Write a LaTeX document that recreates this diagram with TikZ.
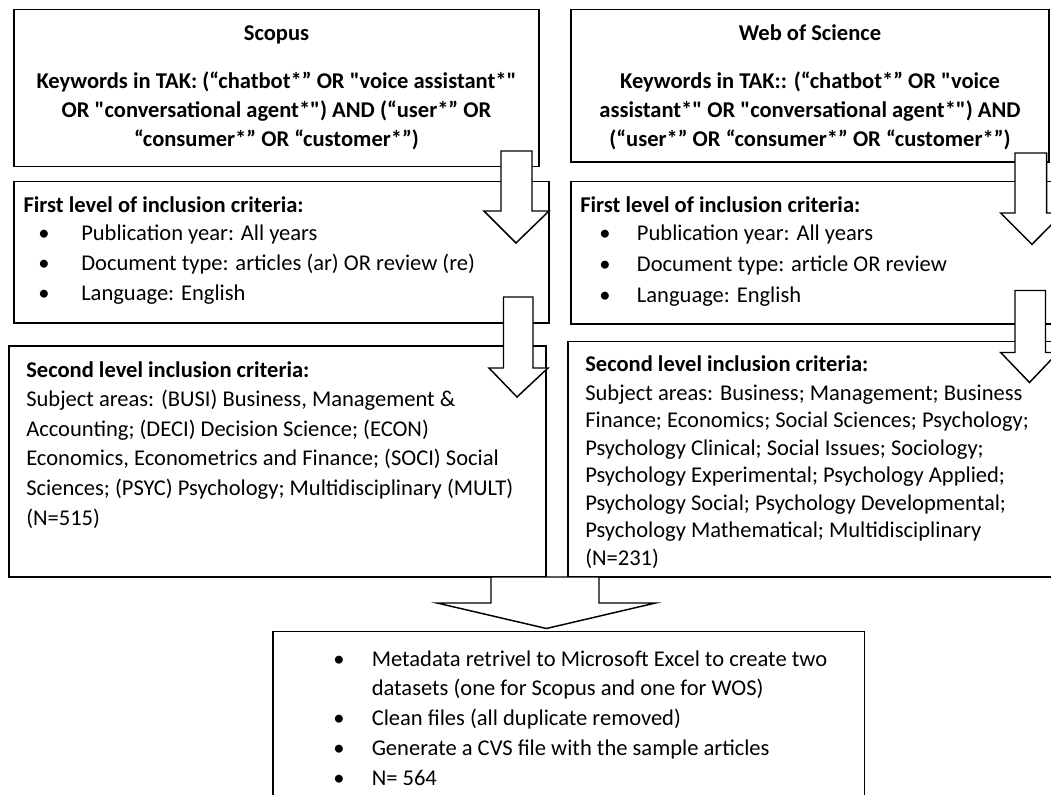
\documentclass[tikz,border=0pt]{standalone}
\usepackage{fontspec}
\setmainfont{Carlito}[Ligatures=TeXOff]
\usetikzlibrary{fit}
\newcommand\diagfont{\fontsize{16.9}{20}\selectfont}
\begin{document}
\begin{tikzpicture}[x=0.75pt,y=-0.75pt,
  box/.style={draw=black, fill=white, line width=1.1pt, inner sep=0pt},
  barrow/.style={draw=black, fill=white, line width=1.1pt, line join=miter},
  txt/.style={anchor=base west, inner sep=0pt, font=\diagfont},
  btxt/.style={anchor=base west, inner sep=0pt, font=\diagfont\bfseries},
  ctxt/.style={anchor=base, inner sep=0pt, font=\diagfont\bfseries}]
\clip (0,0) rectangle (1051,795);
\fill[white] (0,0) rectangle (1051,795);
% boxes
\node[box, fit={(14,9.5) (539,166.5)}] (s1) {};
\node[box, fit={(14,181.7) (549,323)}] (s2) {};
\node[box, fit={(9,346) (546,577)}] (s3) {};
\node[box, fit={(571,9.5) (1049,162)}] (w1) {};
\node[box, fit={(571,181.7) (1062,324)}] (w2) {};
\node[box, fit={(568,341.7) (1062,577)}] (w3) {};
\node[box, fit={(273,631.5) (864.7,802)}] (out) {};
% block arrows
\draw[barrow] (491,577) -- (491,603) -- (437,603) -- (546.4,628.5) -- (655.5,603) -- (599,603) -- (599,577) -- cycle;
\draw[barrow] (501,151) -- (501,211) -- (484,211) -- (516,243) -- (549,211) -- (532,211) -- (532,151) -- cycle;
\draw[barrow] (503.5,297) -- (503.5,368) -- (489,368) -- (517,397) -- (548,368) -- (533,368) -- (533,297) -- cycle;
\draw[barrow] (1015,153) -- (1015,213) -- (1000.7,213) -- (1032,244.3) -- (1063,213) -- (1046.7,213) -- (1046.7,153) -- cycle;
\draw[barrow] (1015,290.5) -- (1015,352.5) -- (1000.7,352.5) -- (1029.5,382.5) -- (1058,352.5) -- (1045.5,352.5) -- (1045.5,290.5) -- cycle;
\begin{scope}[yshift=-1.1pt]
% Scopus box 1
\node[ctxt] (s1t) at (276.5,39.3) {Scopus};
\node[ctxt] (s1a) at (276.5,87.3) {Keywords in TAK: (“chatbot*” OR "voice assistant*"};
\node[ctxt] (s1b) at (276.5,116) {OR "conversational agent*") AND (“user*” OR};
\node[ctxt] (s1c) at (276.5,145) {“consumer*” OR “customer*”)};
% WoS box 1
\node[ctxt] (w1t) at (810,39.3) {Web of Science};
\node[ctxt] (w1a) at (810,87.3) {Keywords in TAK:: (“chatbot*” OR "voice};
\node[ctxt] (w1b) at (810,116) {assistant*" OR "conversational agent*") AND};
\node[ctxt] (w1c) at (810,145) {(“user*” OR “consumer*” OR “customer*”)};
% Scopus box 2
\node[btxt] (s2h) at (23.3,210.7) {First level of inclusion criteria:};
\node[txt] (s2b1) at (38,239.3) {\textbullet};
\node[txt] (s2l1) at (81,239.3) {Publication year: All years};
\node[txt] (s2b2) at (38,269.3) {\textbullet};
\node[txt] (s2l2) at (81,269.3) {Document type: articles (ar) OR review (re)};
\node[txt] (s2b3) at (38,299) {\textbullet};
\node[txt] (s2l3) at (81,299) {Language: English};
% WoS box 2
\node[btxt] (w2h) at (580,210.7) {First level of inclusion criteria:};
\node[txt] (w2b1) at (599,239.5) {\textbullet};
\node[txt] (w2l1) at (636.7,239.5) {Publication year: All years};
\node[txt] (w2b2) at (599,270) {\textbullet};
\node[txt] (w2l2) at (636.7,270) {Document type: article OR review};
\node[txt] (w2b3) at (599,301) {\textbullet};
\node[txt] (w2l3) at (636.7,301) {Language: English};
% Scopus box 3
\node[btxt] (s3h) at (26,376.5) {Second level inclusion criteria:};
\node[txt] (s3l1) at (26,405.5) {Subject areas: (BUSI) Business, Management \&};
\node[txt] (s3l2) at (26,434.8) {Accounting; (DECI) Decision Science; (ECON)};
\node[txt] (s3l3) at (26,464.5) {Economics, Econometrics and Finance; (SOCI) Social};
\node[txt] (s3l4) at (26,493.8) {Sciences; (PSYC) Psychology; Multidisciplinary (MULT)};
\node[txt] (s3l5) at (26,523.8) {(N=515)};
% WoS box 3
\node[btxt] (w3h) at (585,370) {Second level inclusion criteria:};
\node[txt] (w3l1) at (585,398.8) {Subject areas: Business; Management; Business};
\node[txt] (w3l2) at (585,426.2) {Finance; Economics; Social Sciences; Psychology;};
\node[txt] (w3l3) at (585,453.8) {Psychology Clinical; Social Issues; Sociology;};
\node[txt] (w3l4) at (585,481.2) {Psychology Experimental; Psychology Applied;};
\node[txt] (w3l5) at (585,508.8) {Psychology Social; Psychology Developmental;};
\node[txt] (w3l6) at (585,536.5) {Psychology Mathematical; Multidisciplinary};
\node[txt] (w3l7) at (585,563.8) {(N=231)};
% output box
\node[txt] (ob1) at (333,664.8) {\textbullet};
\node[txt] (ol1) at (371.5,664.8) {Metadata retrivel to Microsoft Excel to create two};
\node[txt] (ol2) at (371.5,693.8) {datasets (one for Scopus and one for WOS)};
\node[txt] (ob3) at (333,723.8) {\textbullet};
\node[txt] (ol3) at (371.5,723.8) {Clean files (all duplicate removed)};
\node[txt] (ob4) at (333,753.8) {\textbullet};
\node[txt] (ol4) at (371.5,753.8) {Generate a CVS file with the sample articles};
\node[txt] (ob5) at (333,783.8) {\textbullet};
\node[txt] (ol5) at (371.5,783.8) {N= 564};
\end{scope}
\end{tikzpicture}
\end{document}
